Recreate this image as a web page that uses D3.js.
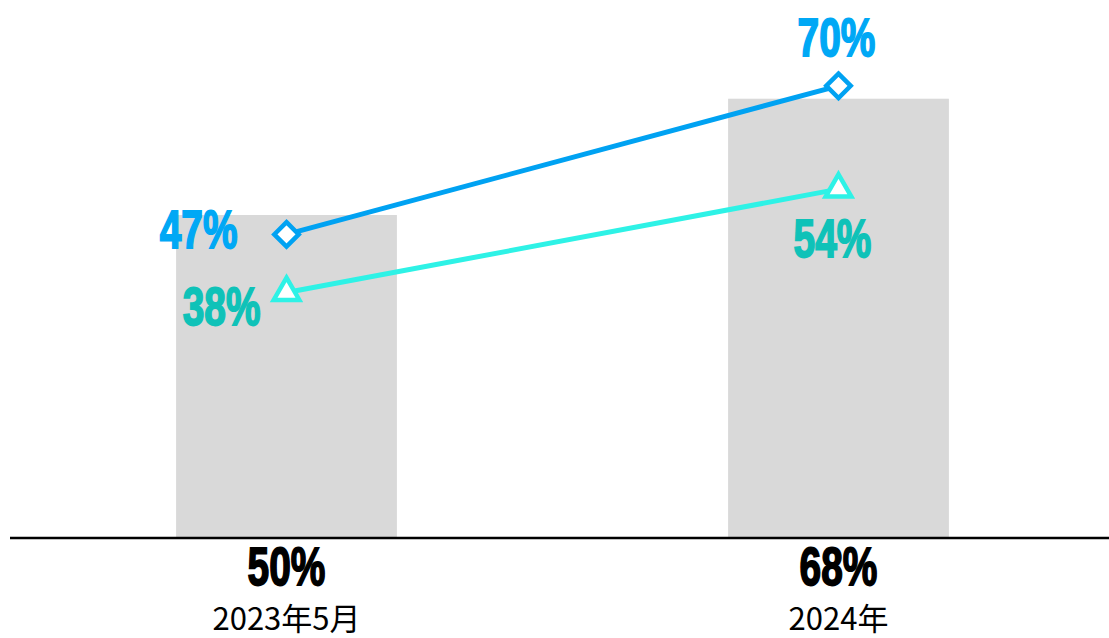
<!DOCTYPE html>
<html><head><meta charset="utf-8">
<script src="https://cdn.jsdelivr.net/npm/d3@7"></script>
<style>html,body{margin:0;padding:0;background:#fff;}svg{display:block;}</style>
</head><body>
<svg id="c" width="1109" height="638"></svg>
<script>
const categories = ["2023年5月", "2024年"];
const barValues = [50, 68];
const blueValues = [47, 70];
const cyanValues = [38, 54];

const W = 1109, H = 638;
const svg = d3.select("#c");
const x = d3.scaleBand().domain(categories).range([10.5, 1114.5]).paddingInner(0.6).paddingOuter(0.3);
const y = d3.scaleLinear().domain([0, 100]).range([538, -108]);
const cx = c => x(c) + x.bandwidth() / 2;
const numFont = "'Liberation Sans', Arial, sans-serif";
const SX = 0.72;

function numLabel(sel, color) {
  sel.attr("text-anchor", d => d.anchor)
    .attr("transform", d => `translate(${d.x},${d.y}) scale(${SX},1)`)
    .attr("font-family", numFont).attr("font-weight", "bold").attr("font-size", 54)
    .attr("fill", color).attr("stroke", color).attr("stroke-width", 1.8)
    .text(d => d.v + "%");
}

// bars
svg.selectAll("rect.bar").data(categories).join("rect")
  .attr("x", d => x(d)).attr("width", x.bandwidth())
  .attr("y", (d, i) => y(barValues[i])).attr("height", (d, i) => y(0) - y(barValues[i]))
  .attr("fill", "#d9d9d9");

// axis line
const axis = svg.append("g").attr("transform", `translate(0,${y(0)})`)
  .call(d3.axisBottom(x).tickSize(0).tickFormat(""));
axis.select(".domain").attr("d", `M10,0H${W}`).attr("stroke", "#000").attr("stroke-width", 2.5);

// bar value labels
svg.selectAll("text.bv").data(categories.map((c, i) => ({x: cx(c), y: 585, v: barValues[i], anchor: "middle"})))
  .join("text").call(numLabel, "#000");

// category labels
svg.selectAll("text.cat").data(categories).join("text")
  .attr("x", d => cx(d)).attr("y", 630).attr("text-anchor", "middle")
  .attr("font-family", "'Noto Sans CJK SC', sans-serif").attr("font-size", 31)
  .attr("fill", "#000").text(d => d);

const series = [
  {vals: blueValues, line: "#00a2f2", label: "#00a8f5", marker: d3.symbolDiamond2, size: 380,
   place: [{dx: -49, dy: 14, anchor: "end"}, {dx: -2, dy: -30, anchor: "middle"}]},
  {vals: cyanValues, line: "#2ef2e6", label: "#0fc2b8", marker: d3.symbolTriangle2, size: 470,
   place: [{dx: -26, dy: 32, anchor: "end"}, {dx: -6, dy: 68, anchor: "middle"}]}
];

series.forEach(s => {
  const line = d3.line().x((d, i) => cx(categories[i])).y(d => y(d));
  svg.append("path").datum(s.vals).attr("d", line)
    .attr("fill", "none").attr("stroke", s.line).attr("stroke-width", 5);
  svg.selectAll(null).data(s.vals).join("path")
    .attr("transform", (d, i) => `translate(${cx(categories[i])},${y(d)})`)
    .attr("d", d3.symbol().type(s.marker).size(s.size))
    .attr("fill", "#fff").attr("stroke", s.line).attr("stroke-width", 4.5);
  svg.selectAll(null)
    .data(s.vals.map((v, i) => ({x: cx(categories[i]) + s.place[i].dx, y: y(v) + s.place[i].dy, v, anchor: s.place[i].anchor})))
    .join("text").call(numLabel, s.label);
});
</script>
</body></html>
